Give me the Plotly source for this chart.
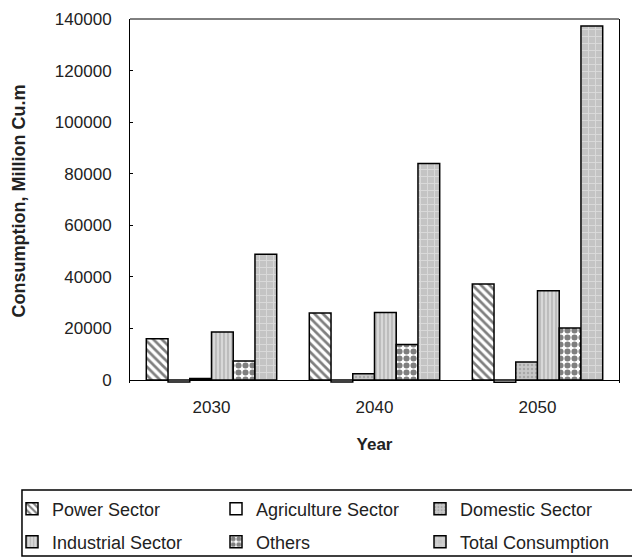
import plotly.graph_objects as go

years = ["2030", "2040", "2050"]
power = [16000, 26000, 37200]
agriculture = [-800, -800, -900]
domestic = [600, 2400, 7000]
industrial = [18600, 26200, 34600]
others = [7400, 13800, 20200]
total = [48800, 84000, 137300]

series = [
    ("Power Sector", power, dict(shape="\\", bgcolor="white", fgcolor="black", size=6, solidity=0.45), "legend"),
    ("Agriculture Sector", agriculture, dict(shape="", bgcolor="white"), "legend"),
    ("Domestic Sector", domestic, dict(shape=".", bgcolor="#c8c8c8", fgcolor="#888888", size=4, solidity=0.3), "legend"),
    ("Industrial Sector", industrial, dict(shape="|", bgcolor="#d8d8d8", fgcolor="#7a7a7a", size=4, solidity=0.3), "legend2"),
    ("Others", others, dict(shape=".", bgcolor="white", fgcolor="black", size=7, solidity=0.6), "legend2"),
    ("Total Consumption", total, dict(shape="+", bgcolor="#c4c4c4", fgcolor="#f0f0f0", size=7, solidity=0.25), "legend2"),
]

fig = go.Figure()
for name, vals, pat, lg in series:
    fig.add_trace(go.Bar(
        x=years, y=vals, name=name, legend=lg,
        marker=dict(color="white", pattern=pat, line=dict(color="black", width=1.5)),
    ))

font = "Liberation Sans, Arial, sans-serif"
legend_common = dict(
    orientation="h", xref="paper", yref="paper", x=-0.2413, xanchor="left", yanchor="middle",
    borderwidth=0, bgcolor="rgba(0,0,0,0)", font=dict(size=18, color="#222"),
    entrywidth=159, entrywidthmode="pixels", itemwidth=30,
)
fig.update_layout(
    width=632, height=558,
    margin=dict(l=130, r=13, t=19, b=175, autoexpand=False),
    paper_bgcolor="white", plot_bgcolor="white",
    barmode="group", bargap=0.2, bargroupgap=0,
    font=dict(family=font, size=17, color="#222"),
    xaxis=dict(
        title=dict(text="<b>Year</b>", font=dict(size=17, color="#222"), standoff=22),
        showline=False, ticks="", tickfont=dict(size=17), ticklabelstandoff=12,
    ),
    yaxis=dict(
        title=dict(text="<b>Consumption, Million Cu.m</b>", font=dict(size=18, color="#222"), standoff=24),
        range=[-1160, 140000], tickvals=[0, 20000, 40000, 60000, 80000, 100000, 120000, 140000],
        tickformat="d",
        showline=True, linecolor="black", linewidth=1, mirror=True,
        ticks="inside", ticklen=3, tickcolor="black",
        showgrid=False, zeroline=True, zerolinecolor="black", zerolinewidth=1,
        tickfont=dict(size=17), ticklabelstandoff=14,
    ),
    legend=dict(legend_common, y=-0.346),
    legend2=dict(legend_common, y=-0.4368),
    shapes=[
        dict(type="line", xref="paper", yref="paper", x0=0, x1=1, y0=1, y1=1,
             line=dict(color="black", width=1)),
        dict(type="rect", xref="paper", yref="paper", x0=-0.2209, x1=1.0429, y0=-0.4753, y1=-0.294,
             line=dict(color="black", width=1.5), fillcolor="rgba(0,0,0,0)"),
    ],
)

fig.write_html(
    "out.html",
    config={"displayModeBar": False},
    post_script="document.body.style.margin='0px'; document.body.style.overflow='hidden';",
)
